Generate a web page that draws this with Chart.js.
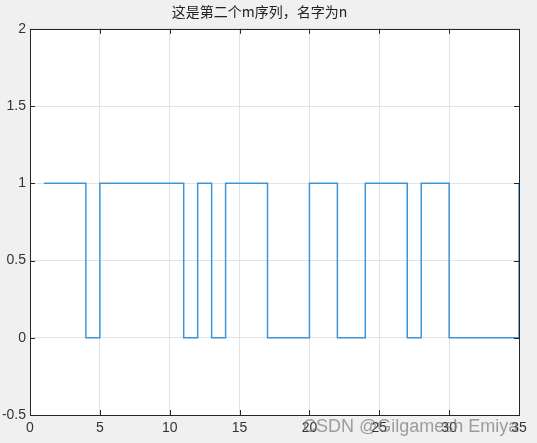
<!DOCTYPE html>
<html>
<head>
<meta charset="utf-8">
<script src="https://cdn.jsdelivr.net/npm/chart.js@4/dist/chart.umd.min.js"></script>
<style>
  html, body { margin: 0; padding: 0; background: #f0f0f0; }
  #wrap { width: 537px; height: 443px; }
</style>
</head>
<body>
<div id="wrap"><canvas id="c" width="537" height="443"></canvas></div>
<script>
// stairs(x, n): value held from x(i) to x(i+1)
const xValues = [1,2,3,4,5,6,7,8,9,10,11,12,13,14,15,16,17,18,19,20,21,22,23,24,25,26,27,28,29,30,31,32,33,34,35];
const nValues = [1,1,1,0,1,1,1,1,1,1,0,1,0,1,1,1,0,0,0,1,1,0,0,1,1,1,0,1,1,0,0,0,0,0,1];
const xTicks = [0,5,10,15,20,25,30,35];
const yTicks = [-0.5,0,0.5,1,1.5,2];
const titleText = "这是第二个m序列，名字为n";
const watermark = "CSDN @Gilgamesh Emiya";

const axisColor = "#262626";
const tickFont = { family: "'Liberation Sans', Arial, sans-serif", size: 14 };

// white axes background + box + inward ticks (MATLAB look)
const axesBox = {
  id: "axesBox",
  beforeDraw(chart) {
    const { ctx, chartArea: a } = chart;
    ctx.save();
    ctx.fillStyle = "#ffffff";
    ctx.fillRect(a.left, a.top, a.right - a.left, a.bottom - a.top);
    ctx.restore();
  },
  afterDatasetsDraw(chart) {
    const { ctx, chartArea: a, scales } = chart;
    ctx.save();
    ctx.strokeStyle = axisColor;
    ctx.lineWidth = 1;
    ctx.strokeRect(Math.round(a.left) + 0.5, Math.round(a.top) + 0.5,
      Math.round(a.right - a.left), Math.round(a.bottom - a.top));
    ctx.beginPath();
    xTicks.forEach(v => {
      const px = Math.round(scales.x.getPixelForValue(v)) + 0.5;
      ctx.moveTo(px, a.bottom); ctx.lineTo(px, a.bottom - 5);
      ctx.moveTo(px, a.top); ctx.lineTo(px, a.top + 5);
    });
    yTicks.forEach(v => {
      const py = Math.round(scales.y.getPixelForValue(v)) + 0.5;
      ctx.moveTo(a.left, py); ctx.lineTo(a.left + 5, py);
      ctx.moveTo(a.right, py); ctx.lineTo(a.right - 5, py);
    });
    ctx.stroke();
    ctx.restore();
  },
  afterDraw(chart) {
    const { ctx } = chart;
    ctx.save();
    ctx.font = "18px 'Liberation Sans', Arial, sans-serif";
    ctx.fillStyle = "rgba(120,120,120,0.7)";
    ctx.textBaseline = "alphabetic";
    ctx.fillText(watermark, 303, 432);
    ctx.restore();
  }
};

new Chart(document.getElementById("c"), {
  type: "line",
  data: {
    datasets: [{
      label: "n",
      data: xValues.map((x, i) => ({ x, y: nValues[i] })),
      stepped: "before",
      borderColor: "#3d95d5",
      borderWidth: 1.5,
      pointRadius: 0,
      fill: false
    }]
  },
  options: {
    responsive: false,
    animation: false,
    layout: { padding: { left: 0, right: 18, top: 0, bottom: 0 } },
    plugins: {
      legend: { display: false },
      tooltip: { enabled: false },
      title: {
        display: true,
        text: titleText,
        color: "#222222",
        font: { family: "'Noto Sans CJK SC', sans-serif", size: 14, weight: "normal" },
        padding: { top: 3, bottom: 9 }
      }
    },
    scales: {
      x: {
        type: "linear",
        min: 0, max: 35,
        afterBuildTicks: s => { s.ticks = xTicks.map(v => ({ value: v })); },
        afterFit: s => { s.height = 28; },
        grid: { color: "#e3e3e3", drawTicks: false },
        border: { display: false },
        ticks: { padding: 5, color: "#333333", font: tickFont }
      },
      y: {
        min: -0.5, max: 2,
        afterBuildTicks: s => { s.ticks = yTicks.map(v => ({ value: v })); },
        afterFit: s => { s.width = 30; },
        grid: { color: "#e3e3e3", drawTicks: false },
        border: { display: false },
        ticks: { padding: 4, color: "#333333", font: tickFont, callback: v => String(v) }
      }
    }
  },
  plugins: [axesBox]
});
</script>
</body>
</html>
